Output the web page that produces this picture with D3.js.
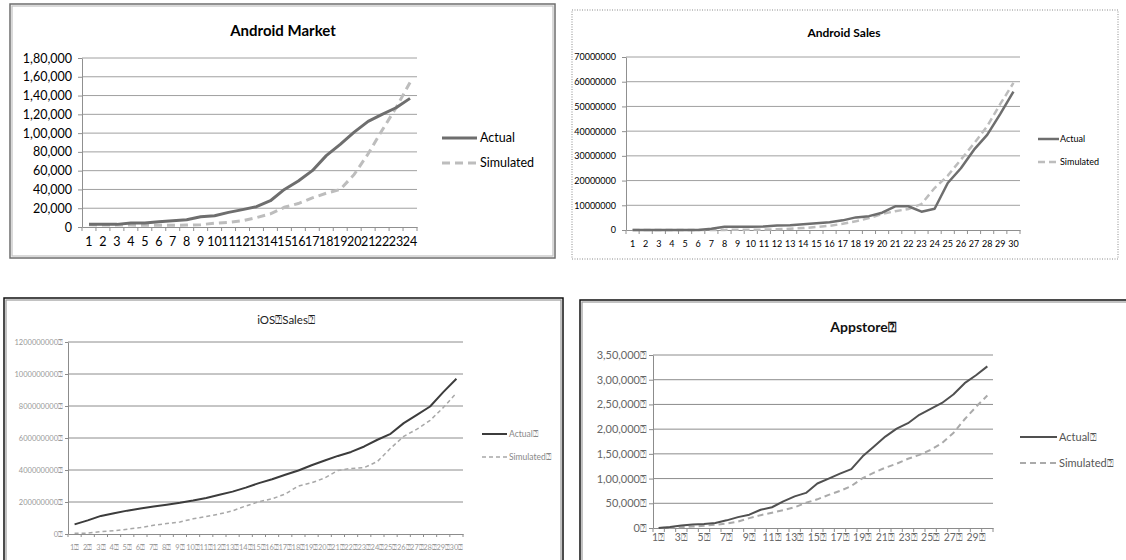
<!DOCTYPE html>
<html><head><meta charset="utf-8">
<script src="https://cdn.jsdelivr.net/npm/d3@7"></script>
<style>body{margin:0;background:#fff}svg{display:block}</style>
</head><body>
<svg id="c" width="1126" height="560"></svg>
<script>
// ---------- DATA ----------
const marketCategories = ["1","2","3","4","5","6","7","8","9","10","11","12","13","14","15","16","17","18","19","20","21","22","23","24"];
const marketActual = [2800,2800,2800,4300,4300,5700,6700,7800,11000,12000,15600,18500,21600,28000,40000,49000,60000,76000,88000,101000,112500,120000,127000,137000];
const marketSimulated = [2500,2000,2000,2000,1800,1800,1800,2000,2500,4000,5000,6700,10000,14000,21000,25000,31000,36000,40000,56000,78000,103000,127000,154000];
const marketYTicks = [0,20000,40000,60000,80000,100000,120000,140000,160000,180000];
const marketYLabels = ["0","20,000","40,000","60,000","80,000","1,00,000","1,20,000","1,40,000","1,60,000","1,80,000"];

const salesCategories = ["1","2","3","4","5","6","7","8","9","10","11","12","13","14","15","16","17","18","19","20","21","22","23","24","25","26","27","28","29","30"];
const salesActual = [0,0,0,0,0,0,500000,1300000,1300000,1300000,1400000,1800000,1900000,2300000,2700000,3100000,3900000,5100000,5600000,7000000,9600000,9600000,7400000,8600000,19000000,25000000,32500000,38500000,47000000,56000000];
const salesSimulated = [0,0,0,0,0,0,0,50000,100000,100000,150000,300000,500000,800000,1200000,1700000,2500000,3500000,4800000,6500000,7600000,8500000,10500000,17000000,22000000,28500000,35000000,42000000,51000000,59500000];
const salesYTicks = [0,10000000,20000000,30000000,40000000,50000000,60000000,70000000];
const salesYLabels = ["0","10000000","20000000","30000000","40000000","50000000","60000000","70000000"];

const iosCategories = ["1⍰","2⍰","3⍰","4⍰","5⍰","6⍰","7⍰","8⍰","9⍰","10⍰","11⍰","12⍰","13⍰","14⍰","15⍰","16⍰","17⍰","18⍰","19⍰","20⍰","21⍰","22⍰","23⍰","24⍰","25⍰","26⍰","27⍰","28⍰","29⍰","30⍰"];
const iosActual = [60e6,85e6,113e6,130e6,146e6,160e6,172e6,183e6,195e6,209e6,225e6,245e6,265e6,290e6,318e6,342e6,370e6,397e6,430e6,459e6,488e6,513e6,547e6,589e6,626e6,693e6,745e6,797e6,887e6,970e6];
const iosSimulated = [5e6,5e6,15e6,20e6,30e6,40e6,55e6,65e6,75e6,95e6,110e6,125e6,145e6,175e6,202e6,220e6,250e6,300e6,320e6,350e6,397e6,410e6,415e6,453e6,536e6,610e6,655e6,710e6,790e6,881e6];
const iosYTicks = [0,200e6,400e6,600e6,800e6,1000e6,1200e6];
const iosYLabels = ["0⍰","200000000⍰","400000000⍰","600000000⍰","800000000⍰","1000000000⍰","1200000000⍰"];

const appCategories = ["1⍰","2⍰","3⍰","4⍰","5⍰","6⍰","7⍰","8⍰","9⍰","10⍰","11⍰","12⍰","13⍰","14⍰","15⍰","16⍰","17⍰","18⍰","19⍰","20⍰","21⍰","22⍰","23⍰","24⍰","25⍰","26⍰","27⍰","28⍰","29⍰","30⍰"];
const appShownLabels = ["1⍰","3⍰","5⍰","7⍰","9⍰","11⍰","13⍰","15⍰","17⍰","19⍰","21⍰","23⍰","25⍰","27⍰","29⍰"];
const appActual = [0,2000,5000,7000,8000,10000,15500,22000,27000,37000,42000,54000,64000,71000,90000,100000,110000,119000,145000,165000,185000,201000,212000,229000,241000,253000,270000,293000,309000,327000];
const appSimulated = [0,500,1500,3000,4500,6500,9000,13000,20000,26000,31000,36000,42000,51000,58000,67000,75000,85000,101000,112000,122000,130000,140000,148000,158000,172000,192000,220000,245000,268000];
const appYTicks = [0,50000,100000,150000,200000,250000,300000,350000];
const appYLabels = ["0⍰","50,000⍰","1,00,000⍰","1,50,000⍰","2,00,000⍰","2,50,000⍰","3,00,000⍰","3,50,000⍰"];

const seriesNames = ["Actual","Simulated"];
const seriesNamesBox = ["Actual⍰","Simulated⍰"];

// ---------- DRAW ----------
const svg = d3.select("#c");
const FONT = "Lato, 'Open Sans', sans-serif";

function drawPanel(cfg){
  const g = svg.append("g");
  cfg.border(g);
  g.append("text").attr("x",cfg.titleX).attr("y",cfg.titleY).attr("text-anchor","middle")
    .attr("font-family",FONT).attr("font-size",cfg.titleSize).attr("font-weight",cfg.titleWeight)
    .attr("fill",cfg.titleColor).text(cfg.title);

  const x = d3.scaleBand().domain(cfg.categories).range([cfg.px0,cfg.px1]).padding(0);
  const y = d3.scaleLinear().domain([0,cfg.yMax]).range([cfg.py1,cfg.py0]);
  const bw = x.bandwidth();

  g.append("g").selectAll("line").data(cfg.yTicks.filter(v=>v>0)).join("line")
    .attr("x1",cfg.px0).attr("x2",cfg.px1).attr("y1",d=>y(d)).attr("y2",d=>y(d))
    .attr("stroke",cfg.gridColor).attr("stroke-width",1);

  const ya = g.append("g").attr("transform",`translate(${cfg.px0},0)`)
    .call(d3.axisLeft(y).tickValues(cfg.yTicks).tickSize(cfg.yTickSize).tickPadding(cfg.yPad)
      .tickSizeOuter(0).tickFormat((d,i)=>cfg.yLabels[i]));
  ya.select(".domain").attr("stroke",cfg.axisColor);
  ya.selectAll(".tick line").attr("stroke",cfg.axisColor);
  ya.selectAll("text").attr("font-family",FONT).attr("font-size",cfg.labelSize).attr("fill",cfg.labelColor);

  const xa = g.append("g").attr("transform",`translate(0,${cfg.py1})`)
    .call(d3.axisBottom(x).tickSize(0).tickSizeOuter(0).tickPadding(cfg.xPad)
      .tickFormat(d=> cfg.xShown ? (cfg.xShown.includes(d)?d:"") : d));
  xa.select(".domain").attr("stroke",cfg.axisColor);
  xa.selectAll("text").attr("font-family",FONT).attr("font-size",cfg.xLabelSize||cfg.labelSize).attr("fill",cfg.labelColor);
  const bounds = cfg.categories.map(c=>x(c)).concat([x(cfg.categories[cfg.categories.length-1])+bw]);
  g.append("g").selectAll("line").data(bounds).join("line")
    .attr("x1",d=>d).attr("x2",d=>d).attr("y1",cfg.py1).attr("y2",cfg.py1+cfg.xTickSize)
    .attr("stroke",cfg.axisColor).attr("stroke-width",1);

  const line = d3.line().x((d,i)=>x(cfg.categories[i])+bw/2).y(d=>y(d));
  g.append("path").datum(cfg.simulated).attr("d",line).attr("fill","none")
    .attr("stroke",cfg.simColor).attr("stroke-width",cfg.simWidth).attr("stroke-dasharray",cfg.dash);
  g.append("path").datum(cfg.actual).attr("d",line).attr("fill","none")
    .attr("stroke",cfg.actColor).attr("stroke-width",cfg.actWidth).attr("stroke-linejoin","round");

  const lg = g.append("g");
  const styles = [{c:cfg.actColor,w:cfg.actWidth,d:null},{c:cfg.simColor,w:cfg.simWidth,d:cfg.dash}];
  cfg.legendNames.forEach((n,i)=>{
    const ly = cfg.legendY[i];
    lg.append("line").attr("x1",cfg.legX0).attr("x2",cfg.legX1).attr("y1",ly).attr("y2",ly)
      .attr("stroke",styles[i].c).attr("stroke-width",styles[i].w).attr("stroke-dasharray",styles[i].d);
    lg.append("text").attr("x",cfg.legTextX).attr("y",ly).attr("dy","0.35em")
      .attr("font-family",FONT).attr("font-size",cfg.legendSize).attr("fill",cfg.legendColor).text(n);
  });
}

drawPanel({
  border: g=>{
    g.append("rect").attr("x",10).attr("y",4).attr("width",545).attr("height",254)
      .attr("fill","#fff").attr("stroke","#6e6e6e").attr("stroke-width",1.5);
    g.append("rect").attr("x",12).attr("y",6).attr("width",541).attr("height",250)
      .attr("fill","none").attr("stroke","#c0c0c0").attr("stroke-width",1.2);
  },
  title:"Android Market", titleX:283, titleY:36, titleSize:15, titleWeight:"bold", titleColor:"#000",
  categories:marketCategories, actual:marketActual, simulated:marketSimulated,
  yTicks:marketYTicks, yLabels:marketYLabels, yMax:180000,
  px0:82, px1:417, py0:58, py1:227,
  gridColor:"#a0a0a0", axisColor:"#909090", labelColor:"#000", labelSize:12.5,
  yTickSize:4, yPad:6, xPad:10, xTickSize:4,
  actColor:"#6e6e6e", actWidth:3, simColor:"#bdbdbd", simWidth:3, dash:"8,5",
  legendNames:seriesNames, legendY:[138,163], legX0:442, legX1:477, legTextX:480, legendSize:12.5, legendColor:"#000"
});

drawPanel({
  border: g=>{
    g.append("rect").attr("x",572).attr("y",10).attr("width",546).attr("height",249)
      .attr("fill","#fff").attr("stroke","#8a8a8a").attr("stroke-width",1).attr("stroke-dasharray","1,1.5");
  },
  title:"Android Sales", titleX:844, titleY:37, titleSize:12, titleWeight:"bold", titleColor:"#000",
  categories:salesCategories, actual:salesActual, simulated:salesSimulated,
  yTicks:salesYTicks, yLabels:salesYLabels, yMax:70000000,
  px0:626, px1:1020, py0:57, py1:230,
  gridColor:"#a0a0a0", axisColor:"#909090", labelColor:"#000", labelSize:9,
  yTickSize:4, yPad:6, xPad:11, xTickSize:4,
  actColor:"#6e6e6e", actWidth:2.5, simColor:"#bdbdbd", simWidth:2.5, dash:"7,4",
  legendNames:seriesNames, legendY:[139,162], legX0:1038, legX1:1059, legTextX:1060, legendSize:9, legendColor:"#000"
});

drawPanel({
  border: g=>{
    g.append("rect").attr("x",4).attr("y",298).attr("width",559).attr("height",300)
      .attr("fill","#fff").attr("stroke","#111").attr("stroke-width",1.5);
    g.append("rect").attr("x",6).attr("y",300).attr("width",555).attr("height",296)
      .attr("fill","none").attr("stroke","#9a9a9a").attr("stroke-width",1.2);
  },
  title:"iOS⍰Sales⍰", titleX:286, titleY:324, titleSize:11.5, titleWeight:"normal", titleColor:"#222",
  categories:iosCategories, actual:iosActual, simulated:iosSimulated,
  yTicks:iosYTicks, yLabels:iosYLabels, yMax:1200e6,
  px0:68, px1:463, py0:342, py1:534,
  gridColor:"#8c8c8c", axisColor:"#8c8c8c", labelColor:"#999", labelSize:7.5,
  yTickSize:3, yPad:2, xPad:11, xTickSize:3,
  actColor:"#3c3c3c", actWidth:2, simColor:"#a8a8a8", simWidth:1.5, dash:"4,3",
  legendNames:seriesNamesBox, legendY:[434,457], legX0:482, legX1:507, legTextX:509, legendSize:8.5, legendColor:"#888"
});

drawPanel({
  border: g=>{
    g.append("rect").attr("x",580).attr("y",300).attr("width",560).attr("height",300)
      .attr("fill","#fff").attr("stroke","#111").attr("stroke-width",1.5);
    g.append("rect").attr("x",582).attr("y",302).attr("width",556).attr("height",296)
      .attr("fill","none").attr("stroke","#9a9a9a").attr("stroke-width",1.2);
  },
  title:"Appstore⍰", titleX:863, titleY:332, titleSize:14, titleWeight:"bold", titleColor:"#111",
  categories:appCategories, actual:appActual, simulated:appSimulated, xShown:appShownLabels,
  yTicks:appYTicks, yLabels:appYLabels, yMax:350000,
  px0:653, px1:993, py0:355, py1:528,
  gridColor:"#8c8c8c", axisColor:"#8c8c8c", labelColor:"#666", labelSize:11, xLabelSize:10.5,
  yTickSize:4, yPad:2, xPad:6, xTickSize:4,
  actColor:"#505050", actWidth:2, simColor:"#aaaaaa", simWidth:2, dash:"6,4",
  legendNames:seriesNamesBox, legendY:[437,463], legX0:1020, legX1:1057, legTextX:1059, legendSize:11, legendColor:"#555"
});
</script>
</body></html>
